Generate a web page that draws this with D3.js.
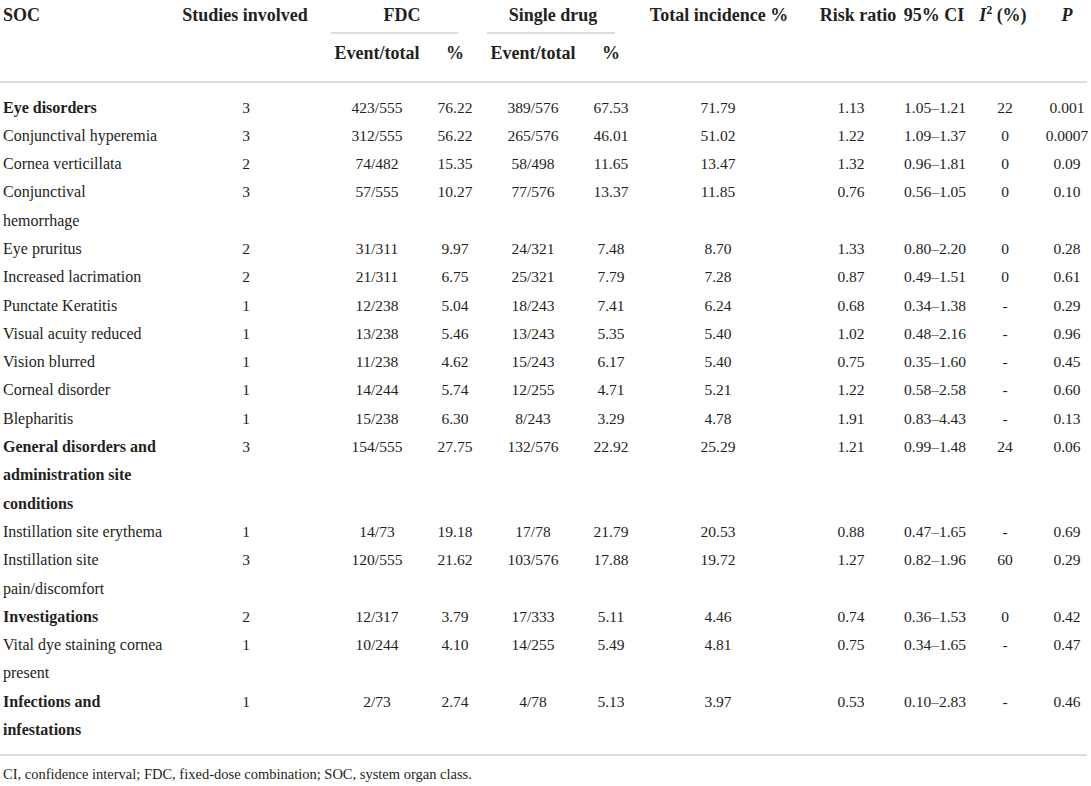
<!DOCTYPE html>
<html>
<head>
<meta charset="utf-8">
<script src="https://cdn.jsdelivr.net/npm/d3@7"></script>
<style>
  html, body { margin: 0; padding: 0; background: #fff; }
  svg { display: block; }
  text { font-family: "Liberation Serif", "Times New Roman", serif; fill: #231f20; }
</style>
</head>
<body>
<svg id="chart" width="1091" height="786"></svg>
<script>
// ---- data ----
const socLabels = [
  ["Eye disorders"], ["Conjunctival hyperemia"], ["Cornea verticillata"],
  ["Conjunctival", "hemorrhage"], ["Eye pruritus"], ["Increased lacrimation"],
  ["Punctate Keratitis"], ["Visual acuity reduced"], ["Vision blurred"],
  ["Corneal disorder"], ["Blepharitis"],
  ["General disorders and", "administration site", "conditions"],
  ["Instillation site erythema"], ["Instillation site", "pain/discomfort"],
  ["Investigations"], ["Vital dye staining cornea", "present"],
  ["Infections and", "infestations"]
];
const socIsClass = [true, false, false, false, false, false, false, false, false, false, false, true, false, false, true, false, true];
const studies = ["3","3","2","3","2","2","1","1","1","1","1","3","1","3","2","1","1"];
const fdcEvent = ["423/555","312/555","74/482","57/555","31/311","21/311","12/238","13/238","11/238","14/244","15/238","154/555","14/73","120/555","12/317","10/244","2/73"];
const fdcPct = ["76.22","56.22","15.35","10.27","9.97","6.75","5.04","5.46","4.62","5.74","6.30","27.75","19.18","21.62","3.79","4.10","2.74"];
const singleEvent = ["389/576","265/576","58/498","77/576","24/321","25/321","18/243","13/243","15/243","12/255","8/243","132/576","17/78","103/576","17/333","14/255","4/78"];
const singlePct = ["67.53","46.01","11.65","13.37","7.48","7.79","7.41","5.35","6.17","4.71","3.29","22.92","21.79","17.88","5.11","5.49","5.13"];
const totalIncidence = ["71.79","51.02","13.47","11.85","8.70","7.28","6.24","5.40","5.40","5.21","4.78","25.29","20.53","19.72","4.46","4.81","3.97"];
const riskRatio = ["1.13","1.22","1.32","0.76","1.33","0.87","0.68","1.02","0.75","1.22","1.91","1.21","0.88","1.27","0.74","0.75","0.53"];
const ci95 = ["1.05–1.21","1.09–1.37","0.96–1.81","0.56–1.05","0.80–2.20","0.49–1.51","0.34–1.38","0.48–2.16","0.35–1.60","0.58–2.58","0.83–4.43","0.99–1.48","0.47–1.65","0.82–1.96","0.36–1.53","0.34–1.65","0.10–2.83"];
const i2 = ["22","0","0","0","0","0","-","-","-","-","-","24","-","60","0","-","-"];
const pValue = ["0.001","0.0007","0.09","0.10","0.28","0.61","0.29","0.96","0.45","0.60","0.13","0.06","0.69","0.29","0.42","0.47","0.46"];

const valueColumns = ["studies","fdcEvent","fdcPct","singleEvent","singlePct","total","rr","ci","i2","p"];
const valueArrays = [studies, fdcEvent, fdcPct, singleEvent, singlePct, totalIncidence, riskRatio, ci95, i2, pValue];
const groupHeaders = ["FDC", "Single drug"];
const subHeaders = ["Event/total", "%", "Event/total", "%"];
const footnote = "CI, confidence interval; FDC, fixed-dose combination; SOC, system organ class.";

// ---- layout ----
const W = 1091;
const svg = d3.select("#chart");
const x = d3.scaleOrdinal()
  .domain(valueColumns)
  .range([246, 377, 455, 533, 611, 718, 851, 935, 1005, 1067]);
const xHead = d3.scaleOrdinal()
  .domain(["studies","fdc","single","total","rr","ci","i2","p"])
  .range([245, 402, 553, 719, 858, 934, 1003, 1067]);
const totalLines = d3.sum(socLabels, d => d.length);
const y = d3.scaleLinear().domain([0, totalLines - 1]).range([112.5, 735]);

const startLine = [];
socLabels.reduce((acc, d, i) => { startLine[i] = acc; return acc + d.length; }, 0);

const lineColor = "#d2d2d2";
const numSize = 15.5;

// ---- header ----
const hdr = svg.append("g").attr("font-weight", "bold").attr("font-size", 18);
hdr.append("text").attr("x", 3).attr("y", 21).text("SOC");
hdr.append("text").attr("x", xHead("studies")).attr("y", 21).attr("text-anchor", "middle").text("Studies involved");
hdr.append("text").attr("x", xHead("fdc")).attr("y", 21).attr("text-anchor", "middle").text(groupHeaders[0]);
hdr.append("text").attr("x", xHead("single")).attr("y", 21).attr("text-anchor", "middle").text(groupHeaders[1]);
hdr.append("text").attr("x", xHead("total")).attr("y", 21).attr("text-anchor", "middle").text("Total incidence %");
hdr.append("text").attr("x", xHead("rr")).attr("y", 21).attr("text-anchor", "middle").text("Risk ratio");
hdr.append("text").attr("x", xHead("ci")).attr("y", 21).attr("text-anchor", "middle").text("95% CI");
const i2t = hdr.append("text").attr("x", xHead("i2")).attr("y", 21).attr("text-anchor", "middle");
i2t.append("tspan").attr("font-style", "italic").text("I");
i2t.append("tspan").attr("font-size", 11.5).attr("dy", -7).text("2");
i2t.append("tspan").attr("dy", 7).text(" (%)");
hdr.append("text").attr("x", xHead("p")).attr("y", 21).attr("text-anchor", "middle").attr("font-style", "italic").text("P");

hdr.selectAll("text.sub")
  .data(subHeaders)
  .join("text")
  .attr("class", "sub")
  .attr("x", (d, i) => x(valueColumns[i + 1]))
  .attr("y", 59)
  .attr("text-anchor", "middle")
  .text(d => d);

// group underlines
const spans = [[331, 458], [487, 615]];
svg.selectAll("line.grp").data(spans).join("line")
  .attr("class", "grp")
  .attr("x1", d => d[0]).attr("x2", d => d[1])
  .attr("y1", 33).attr("y2", 33)
  .attr("stroke", lineColor).attr("stroke-width", 1.5);

// full-width rules
svg.selectAll("line.rule").data([82, 755]).join("line")
  .attr("class", "rule")
  .attr("x1", 0).attr("x2", W - 4)
  .attr("y1", d => d).attr("y2", d => d)
  .attr("stroke", lineColor).attr("stroke-width", 1.5);

// ---- body ----
const body = svg.append("g");
const rows = body.selectAll("g.row")
  .data(socLabels)
  .join("g")
  .attr("class", "row");

rows.each(function (lines, i) {
  const g = d3.select(this);
  g.selectAll("text.soc")
    .data(lines)
    .join("text")
    .attr("class", "soc")
    .attr("x", 3)
    .attr("y", (d, k) => y(startLine[i] + k))
    .attr("font-weight", socIsClass[i] ? "bold" : null)
    .attr("font-size", 16)
    .text(d => d);
  g.selectAll("text.val")
    .data(valueColumns.map((c, j) => ({ col: c, v: valueArrays[j][i] })))
    .join("text")
    .attr("class", "val")
    .attr("x", d => x(d.col))
    .attr("y", y(startLine[i]))
    .attr("font-size", numSize)
    .attr("text-anchor", "middle")
    .text(d => d.v);
});

// ---- footnote ----
svg.append("text")
  .attr("x", 3).attr("y", 779)
  .attr("font-size", 14.5)
  .text(footnote);
</script>
</body>
</html>
